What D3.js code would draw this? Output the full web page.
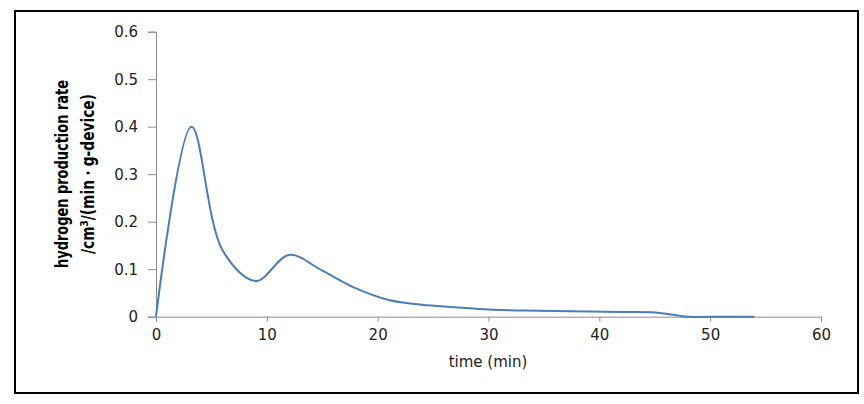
<!DOCTYPE html>
<html>
<head>
<meta charset="utf-8">
<script src="https://cdn.jsdelivr.net/npm/d3@7"></script>
<style>
  body { margin: 0; background: #fff; }
  text { font-family: "DejaVu Sans", sans-serif; }
</style>
</head>
<body>
<svg id="chart"></svg>
<script>
// time (min) and hydrogen production rate
const times = [0, 3.2, 6, 9, 12, 15, 18, 21, 24, 27, 30, 33, 36, 39, 42, 45, 48, 51, 54];
const rates = [0, 0.40, 0.14, 0.075, 0.13, 0.097, 0.06, 0.035, 0.025, 0.02, 0.015, 0.013, 0.012, 0.011, 0.01, 0.009, 0.0, 0.0, 0.0];
const xTicks = [0, 10, 20, 30, 40, 50, 60];
const yTicks = [0, 0.1, 0.2, 0.3, 0.4, 0.5, 0.6];

const width = 864, height = 404;
const svg = d3.select("#chart").attr("width", width).attr("height", height);

// outer frame
svg.append("rect")
  .attr("x", 15).attr("y", 11)
  .attr("width", 843).attr("height", 382)
  .attr("fill", "#fff").attr("stroke", "#000").attr("stroke-width", 2);

const x = d3.scaleLinear().domain([0, 60]).range([156, 821]);
const y = d3.scaleLinear().domain([0, 0.6]).range([316.7, 31.7]);

// y axis
const yAxis = svg.append("g")
  .attr("transform", `translate(${x(0)},0)`)
  .call(d3.axisLeft(y).tickValues(yTicks).tickSize(8).tickPadding(10)
    .tickFormat(d => d === 0 ? "0" : d3.format(".1f")(d)));
yAxis.select(".domain").attr("stroke", "#8c8c8c");
yAxis.selectAll(".tick line").attr("stroke", "#8c8c8c");
yAxis.selectAll(".tick text").attr("font-size", 15).attr("fill", "#222")
  .attr("font-family", "DejaVu Sans");

// x axis
const xAxis = svg.append("g")
  .attr("transform", `translate(0,${y(0)})`)
  .call(d3.axisBottom(x).tickValues(xTicks).tickSize(5).tickPadding(8));
xAxis.select(".domain").attr("stroke", "#8c8c8c");
xAxis.selectAll(".tick line").attr("stroke", "#8c8c8c");
xAxis.selectAll(".tick text").attr("font-size", 15).attr("fill", "#222")
  .attr("font-family", "DejaVu Sans");

// series line
const pts = times.map((t, i) => [t, rates[i]]);
const line = d3.line()
  .x(d => x(d[0]))
  .y(d => y(d[1]))
  .curve(d3.curveCatmullRom.alpha(0.5));

svg.append("path")
  .datum(pts)
  .attr("d", line)
  .attr("fill", "none")
  .attr("stroke", "#4a7ebb")
  .attr("stroke-width", 2);

// axis titles
svg.append("text")
  .attr("x", 488).attr("y", 367)
  .attr("text-anchor", "middle")
  .attr("font-size", 15).attr("fill", "#222")
  .text("time (min)");

const yTitle = svg.append("text")
  .attr("transform", "translate(0,174) rotate(-90)")
  .attr("text-anchor", "middle")
  .attr("font-family", "'Liberation Sans Narrow', 'Liberation Sans', sans-serif")
  .attr("font-weight", "bold")
  .attr("font-size", 17)
  .attr("fill", "#000");
yTitle.append("tspan").attr("x", 0).attr("y", 68)
  .attr("textLength", 188).attr("lengthAdjust", "spacingAndGlyphs")
  .text("hydrogen production rate");
const l2 = yTitle.append("tspan").attr("x", 0).attr("y", 94)
  .attr("textLength", 160).attr("lengthAdjust", "spacingAndGlyphs");
l2.append("tspan").text("/cm");
l2.append("tspan").attr("dy", -6).attr("font-size", 11).text("3");
l2.append("tspan").attr("dy", 6).text("/(min・g-device)");
</script>
</body>
</html>
